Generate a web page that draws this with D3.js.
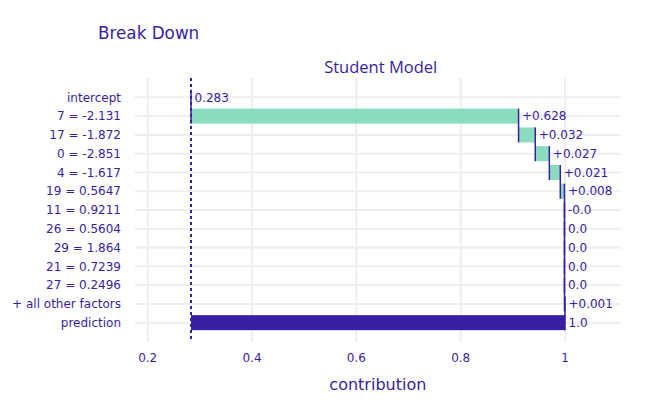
<!DOCTYPE html>
<html><head><meta charset="utf-8">
<script src="https://cdn.jsdelivr.net/npm/d3@7"></script>
<style>body{margin:0;background:#fff}svg{display:block}text{font-family:"DejaVu Sans",Verdana,sans-serif}</style>
</head><body><svg id="c" width="651" height="413"></svg>
<script>
const categories = ["intercept","7 = -2.131","17 = -1.872","0 = -2.851","4 = -1.617","19 = 0.5647","11 = 0.9211","26 = 0.5604","29 = 1.864","21 = 0.7239","27 = 0.2496","+ all other factors","prediction"];
const contributions = [0.283, 0.628, 0.032, 0.027, 0.021, 0.008, -0.0, 0.0, 0.0, 0.0, 0.0, 0.001, 1.0];
const valueLabels = ["0.283","+0.628","+0.032","+0.027","+0.021","+0.008","-0.0","0.0","0.0","0.0","0.0","+0.001","1.0"];
const xTicks = [0.2, 0.4, 0.6, 0.8, 1];
const xTickLabels = ["0.2","0.4","0.6","0.8","1"];

const C = "#371ea3", GREEN = "#8bdcbe", GRID = "#eeeeee";
const svg = d3.select("#c");
const L = 135, R = 620.7, T = 78, B = 342;
const x = d3.scaleLinear().domain([0.1756, 1.1068]).range([L, R]);
const y = d3.scaleLinear().domain([-1.03, 13.03]).range([T, B]);
const bh = 15;

const n = categories.length;
const rows = [];
let cum = 0;
categories.forEach((c, i) => {
  let s, e;
  if (i === 0) { s = contributions[0]; e = contributions[0]; cum = e; }
  else if (i === n - 1) { s = contributions[0]; e = contributions[i]; }
  else { s = cum; e = cum + contributions[i]; cum = e; }
  rows.push({c, i, s, e, lab: valueLabels[i]});
});

// grid
const g = svg.append("g");
g.selectAll(".hg").data(rows).join("line")
  .attr("x1", L).attr("x2", R).attr("y1", d => y(d.i)).attr("y2", d => y(d.i))
  .attr("stroke", GRID).attr("stroke-width", 2);
g.selectAll(".vg").data(xTicks).join("line")
  .attr("x1", d => x(d)).attr("x2", d => x(d)).attr("y1", T).attr("y2", B)
  .attr("stroke", GRID).attr("stroke-width", 2);

// bars
svg.append("g").selectAll("rect").data(rows.filter(r => r.i > 0)).join("rect")
  .attr("x", d => x(Math.min(d.s, d.e)))
  .attr("width", d => Math.abs(x(d.e) - x(d.s)))
  .attr("y", d => y(d.i) - bh / 2).attr("height", bh)
  .attr("fill", d => d.i === n - 1 ? C : GREEN);

// connectors
svg.append("g").selectAll("line").data(rows.slice(0, n - 1)).join("line")
  .attr("x1", d => x(d.e)).attr("x2", d => x(d.e))
  .attr("y1", d => y(d.i) - bh / 2).attr("y2", d => y(d.i + 1) + bh / 2)
  .attr("stroke", C).attr("stroke-width", 1.5);

// dashed intercept line
svg.append("line").attr("x1", x(contributions[0])).attr("x2", x(contributions[0]))
  .attr("y1", T).attr("y2", B).attr("stroke", C).attr("stroke-width", 2)
  .attr("stroke-dasharray", "3,3");

// value labels
svg.append("g").selectAll("text").data(rows).join("text")
  .attr("x", d => x(Math.max(d.s, d.e)) + 3.5).attr("y", d => y(d.i)).attr("dy", "0.35em")
  .attr("fill", C).attr("font-size", 12).text(d => d.lab);

// y tick labels
svg.append("g").selectAll("text").data(rows).join("text")
  .attr("x", 121).attr("y", d => y(d.i)).attr("dy", "0.35em").attr("text-anchor", "end")
  .attr("fill", C).attr("font-size", 12).text(d => d.c);

// x tick labels
svg.append("g").selectAll("text").data(xTicks).join("text")
  .attr("x", d => x(d)).attr("y", 362).attr("text-anchor", "middle")
  .attr("fill", C).attr("font-size", 12).text((d, i) => xTickLabels[i]);

// titles
svg.append("text").attr("x", 98).attr("y", 39).attr("fill", C).attr("font-size", 16.8).text("Break Down");
svg.append("text").attr("x", 380.7).attr("y", 73).attr("text-anchor", "middle").attr("fill", C)
  .style("font-family", "'Open Sans', sans-serif").attr("font-size", 16.5).text("Student Model");
svg.append("text").attr("x", (L + R) / 2).attr("y", 390).attr("text-anchor", "middle").attr("fill", C).attr("font-size", 16).text("contribution");
</script></body></html>
